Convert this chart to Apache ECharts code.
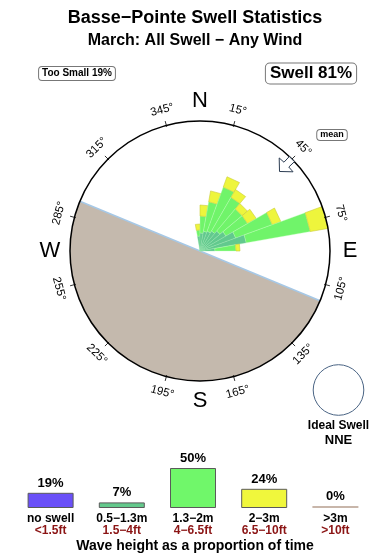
<!DOCTYPE html>
<html><head><meta charset="utf-8">
<script src="https://cdn.jsdelivr.net/npm/echarts@6/dist/echarts.min.js"></script>
<style>html,body{margin:0;padding:0;background:#fff}#c{width:390px;height:560px}</style>
</head><body><div id="c"></div>
<script>
const FONT = '"Liberation Sans", Arial, Helvetica, sans-serif';

// ---- rose data (compass bearing of each 10° bin, stacked lengths per wave-height class)
const binCenters = [355, 5, 15, 25, 35, 45, 55, 65, 75, 85];
const binWidth = 10;
const swellSmall = [1.5, 1.8, 2.0, 2.1, 2.3, 2.6, 3.0, 3.8, 4.7, 1.5];   // 0.5-1.3m
const swellMid   = [0.6, 1.7, 3.0, 4.7, 3.9, 2.9, 2.5, 3.9, 6.5, 2.1];   // 1.3-2m
const swellBig   = [0.6, 1.1, 1.1, 1.1, 0.9, 0.7, 1.0, 0.9, 1.8, 0.4];   // 2-3m
const roseMax = 13;
const landSector = [112.5, 292.5];
const meanDirection = 45;
const tickBearings = [15, 45, 75, 105, 135, 165, 195, 225, 255, 285, 315, 345];
const compassNames = ['N', 'E', 'S', 'W'];
const compassBearings = [0, 90, 180, 270];

// ---- height distribution
const heightCats = ['no swell', '0.5\u22121.3m', '1.3\u22122m', '2\u22123m', '>3m'];
const heightFeet = ['<1.5ft', '1.5\u22124ft', '4\u22126.5ft', '6.5\u221210ft', '>10ft'];
const heightPct = [19, 7, 50, 24, 0];
const tooSmallPct = 19;
const swellPct = 81;
const idealSwell = 'NNE';

const heightColors = ['#6a50f8', '#64c98c', '#70f76a', '#f0f73c', '#c8b6aa'];
const roseFill = ['#62c98e', '#70f46a', '#eef53c'];
const roseStroke = ['rgba(150,230,170,0.6)', 'rgba(190,255,185,0.6)', '#c9cc3a'];

const roseData = [];
binCenters.forEach((b, i) => {
  let r = 0;
  [swellSmall, swellMid, swellBig].forEach((arr, k) => {
    roseData.push([r, r + arr[i], b, k]);
    r += arr[i];
  });
});

const chart = echarts.init(document.getElementById('c'), null, {renderer: 'canvas'});

const option = {
  backgroundColor: '#fff',
  animation: false,
  title: [
    {text: 'Basse\u2212Pointe Swell Statistics', left: 'center', top: 9, padding: 0,
     textStyle: {fontFamily: FONT, fontSize: 18, fontWeight: 'bold', color: '#000'}},
    {text: 'March: All Swell \u2212 Any Wind', left: 'center', top: 33, padding: 0,
     textStyle: {fontFamily: FONT, fontSize: 16, fontWeight: 'bold', color: '#000'}}
  ],
  polar: {center: [200, 251], radius: 130},
  angleAxis: {type: 'value', min: 0, max: 360, startAngle: 90, clockwise: true, show: false},
  radiusAxis: {type: 'value', min: 0, max: roseMax, show: false},
  grid: {left: 15, width: 356, top: 468, height: 40},
  xAxis: {
    type: 'category', data: heightCats,
    axisLine: {show: false}, axisTick: {show: false},
    axisLabel: {
      margin: 5, interval: 0,
      formatter: (v, i) => '{a|' + v + '}\n{b|' + heightFeet[i] + '}',
      rich: {
        a: {fontFamily: FONT, fontSize: 12, fontWeight: 'bold', color: '#000', lineHeight: 12},
        b: {fontFamily: FONT, fontSize: 12, fontWeight: 'bold', color: '#8b1414', lineHeight: 12}
      }
    }
  },
  yAxis: {type: 'value', min: 0, max: 50, show: false},
  graphic: [
    {type: 'text', x: 77, y: 73.5, style: {text: 'Too Small ' + tooSmallPct + '%', fill: '#000',
      font: 'bold 10px ' + FONT, align: 'center', verticalAlign: 'middle',
      backgroundColor: '#fff', borderColor: '#777', borderWidth: 1, borderRadius: 3, padding: [2, 3, 1, 3]}},
    {type: 'text', x: 311, y: 73.5, style: {text: 'Swell ' + swellPct + '%', fill: '#000',
      font: 'bold 17px ' + FONT, align: 'center', verticalAlign: 'middle',
      backgroundColor: '#fff', borderColor: '#777', borderWidth: 1, borderRadius: 4, padding: [2, 4, 1, 4]}},
    {type: 'text', x: 332, y: 135, style: {text: 'mean', fill: '#000',
      font: 'bold 9px ' + FONT, align: 'center', verticalAlign: 'middle',
      backgroundColor: '#fff', borderColor: '#777', borderWidth: 1, borderRadius: 3, padding: [1, 3, 0, 3]}},
    {type: 'circle', shape: {cx: 338.5, cy: 390, r: 25.3}, style: {fill: '#fff', stroke: '#4a6484', lineWidth: 1}},
    {type: 'text', x: 338.5, y: 426, style: {text: 'Ideal Swell', fill: '#000', font: 'bold 12px ' + FONT,
      align: 'center', verticalAlign: 'middle'}},
    {type: 'text', x: 338.5, y: 440, style: {text: idealSwell, fill: '#000', font: 'bold 13px ' + FONT,
      align: 'center', verticalAlign: 'middle'}},
    {type: 'text', x: 195, y: 546, style: {text: 'Wave height as a proportion of time', fill: '#000',
      font: 'bold 14px ' + FONT, align: 'center', verticalAlign: 'middle'}}
  ],
  series: [
    {
      type: 'custom', coordinateSystem: 'polar', z: 1, silent: true,
      data: [[roseMax, landSector[0], landSector[1]]],
      renderItem: (params, api) => {
        const r = api.value(0), a0 = api.value(1), a1 = api.value(2);
        const pts = [api.coord([0, a0])];
        for (let a = a0; a <= a1 + 1e-6; a += 1.5) pts.push(api.coord([r, a]));
        pts.push(api.coord([r, a1]));
        return {type: 'group', children: [
          {type: 'polygon', shape: {points: pts}, style: {fill: '#c4b9ad', stroke: null}},
          {type: 'line', shape: {x1: api.coord([r, a1])[0], y1: api.coord([r, a1])[1],
                                  x2: api.coord([r, a0])[0], y2: api.coord([r, a0])[1]},
           style: {stroke: '#a6c8e6', lineWidth: 1.5}}
        ]};
      }
    },
    {
      type: 'custom', coordinateSystem: 'polar', z: 3, silent: true,
      data: roseData,
      renderItem: (params, api) => {
        const r0 = api.value(0), r1 = api.value(1), b = api.value(2), k = api.value(3);
        const h = binWidth / 2;
        const pts = [api.coord([r0, b - h]), api.coord([r1, b - h]), api.coord([r1, b + h]), api.coord([r0, b + h])];
        return {type: 'polygon', shape: {points: pts},
          style: {fill: roseFill[k], stroke: roseStroke[k], lineWidth: 0.6}};
      }
    },
    {
      type: 'custom', coordinateSystem: 'polar', z: 5, silent: true,
      data: [[roseMax, 0]],
      renderItem: (params, api) => {
        const cs = params.coordSys;
        const R = api.value(0);
        const kids = [{type: 'circle', shape: {cx: cs.cx, cy: cs.cy, r: cs.r},
          style: {fill: null, stroke: '#000', lineWidth: 1.5}}];
        tickBearings.forEach(b => {
          const p0 = api.coord([R - 0.15, b]), p1 = api.coord([R + 0.45, b]);
          kids.push({type: 'line', shape: {x1: p0[0], y1: p0[1], x2: p1[0], y2: p1[1]},
            style: {stroke: '#000', lineWidth: 0.8}});
          const p = api.coord([R + 1.6, b]);
          let rot = b;
          if (b > 90 && b < 270) rot = b - 180;
          if (rot > 180) rot -= 360;
          kids.push({type: 'text', x: p[0], y: p[1], rotation: -rot * Math.PI / 180,
            style: {text: b + '\u00b0', fill: '#000', font: '11.5px ' + FONT, align: 'center', verticalAlign: 'middle'}});
        });
        compassBearings.forEach((b, i) => {
          const p = api.coord([R + 2.0, b]);
          kids.push({type: 'text', x: p[0], y: p[1],
            style: {text: compassNames[i], fill: '#000', font: '22px ' + FONT, align: 'center', verticalAlign: 'middle'}});
        });
        // mean direction arrow
        const m = meanDirection;
        const ap = [
          [R * 0.865, m], [R * 0.94, m - 4.6], [R * 0.94, m - 1.6], [R * 1.0, m - 1.6],
          [R * 1.0, m + 1.6], [R * 0.94, m + 1.6], [R * 0.94, m + 4.6]
        ].map(d => api.coord(d));
        kids.push({type: 'polygon', shape: {points: ap}, style: {fill: '#fff', stroke: '#2c3c52', lineWidth: 1}});
        return {type: 'group', children: kids};
      }
    },
    {
      type: 'bar', xAxisIndex: 0, yAxisIndex: 0, barWidth: 46, barMinHeight: 2,
      data: heightPct.map((v, i) => ({value: v, itemStyle: {color: heightColors[i],
        borderColor: v > 0 ? '#5a5a5a' : heightColors[i], borderWidth: v > 0 ? 1 : 0}})),
      label: {show: true, position: 'top', distance: 3, formatter: '{c}%',
        fontFamily: FONT, fontSize: 13, fontWeight: 'bold', color: '#000'}
    }
  ]
};
chart.setOption(option);
</script>
</body></html>
